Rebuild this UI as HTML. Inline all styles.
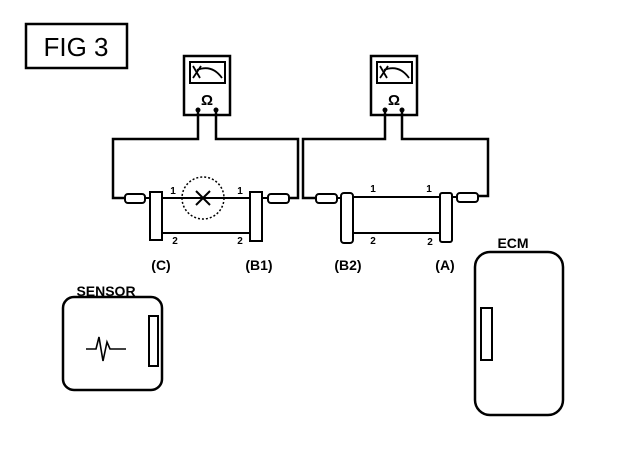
<!DOCTYPE html>
<html><head><style>body{margin:0;background:#fff}svg{display:block}</style></head><body>
<svg width="624" height="452" viewBox="0 0 624 452" xmlns="http://www.w3.org/2000/svg" font-family="Liberation Sans, sans-serif">
<rect x="26" y="24" width="101" height="44" fill="none" stroke="#000" stroke-width="2.5"/>
<text x="76" y="56" font-size="26" text-anchor="middle">FIG  3</text>
<g fill="none" stroke="#000" stroke-width="2.5">
<rect x="184" y="56" width="46" height="59"/>
<rect x="190" y="62" width="35" height="21" stroke-width="2"/>
<path d="M193 66 L200 78 M193 78 L201 66 M197 70 Q212 64 222 78" stroke-width="1.8"/>
<path d="M198 110 V139 H113 V198 H125 M216 110 V139 H298 V198 H290"/>
<rect x="125" y="194" width="20" height="9" rx="3" stroke-width="2"/>
<rect x="268" y="194" width="21" height="9" rx="3" stroke-width="2"/>
<rect x="150" y="192" width="12" height="48" stroke-width="2"/>
<rect x="250" y="192" width="12" height="49" stroke-width="2"/>
<path d="M145 198 H150 M162 198 H250 M262 198 H268 M162 233 H250" stroke-width="2"/>
<circle cx="203" cy="198" r="21" stroke-width="1.5" stroke-dasharray="2 2"/>
<path d="M196 191 L210 205 M210 191 L196 205" stroke-width="2"/>
<rect x="371" y="56" width="46" height="59"/>
<rect x="377" y="62" width="35" height="21" stroke-width="2"/>
<path d="M380 66 L387 78 M380 78 L388 66 M384 70 Q399 64 409 78" stroke-width="1.8"/>
<path d="M385 110 V139 H303 V198 H316 M402 110 V139 H488 V196 H478"/>
<rect x="316" y="194" width="21" height="9" rx="3" stroke-width="2"/>
<rect x="457" y="193" width="21" height="9" rx="3" stroke-width="2"/>
<rect x="341" y="193" width="12" height="50" rx="3" stroke-width="2"/>
<rect x="440" y="193" width="12" height="49" rx="2" stroke-width="2"/>
<path d="M337 198 H341 M353 197 H440 M452 197 H457 M353 233 H440" stroke-width="2"/>
<rect x="63" y="297" width="99" height="93" rx="11"/>
<rect x="149" y="316" width="9" height="50" stroke-width="2"/>
<path d="M86 349 H96 L99 337 L103 361 L107 342 L110 349 H126" stroke-width="1.6"/>
<rect x="475" y="252" width="88" height="163" rx="15"/>
<rect x="481" y="308" width="11" height="52" stroke-width="2"/>
</g>
<circle cx="198" cy="110" r="2.5"/><circle cx="216" cy="110" r="2.5"/>
<circle cx="385" cy="110" r="2.5"/><circle cx="402" cy="110" r="2.5"/>
<g font-weight="bold" text-anchor="middle">
<text x="207" y="105" font-size="15">Ω</text>
<text x="394" y="105" font-size="15">Ω</text>
<g font-size="10">
<text x="173" y="194">1</text><text x="240" y="194">1</text>
<text x="175" y="244">2</text><text x="240" y="244">2</text>
<text x="373" y="192">1</text><text x="429" y="192">1</text>
<text x="373" y="244">2</text><text x="430" y="245">2</text>
</g>
<g font-size="14">
<text x="161" y="270">(C)</text><text x="259" y="270">(B1)</text>
<text x="348" y="270">(B2)</text><text x="445" y="270">(A)</text>
</g>
<text x="106" y="296" font-size="14">SENSOR</text>
<text x="513" y="248" font-size="14">ECM</text>
</g>
</svg>
</body></html>
